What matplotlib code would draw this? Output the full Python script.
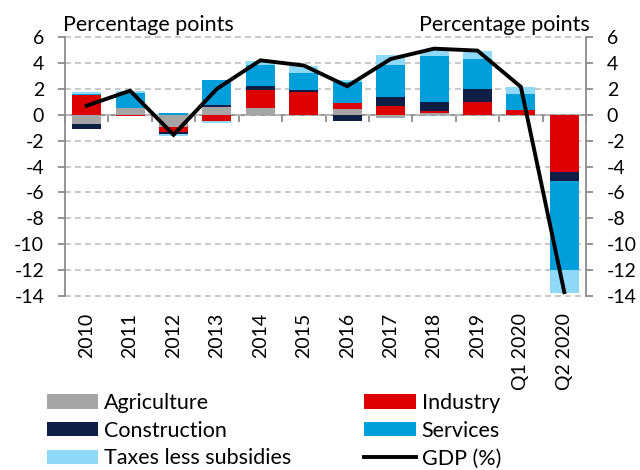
import matplotlib
matplotlib.use('Agg')
import matplotlib.pyplot as plt
import numpy as np
from matplotlib.patches import Patch
from matplotlib.lines import Line2D

categories = ['2010', '2011', '2012', '2013', '2014', '2015', '2016', '2017',
              '2018', '2019', 'Q1 2020', 'Q2 2020']
agriculture = [-0.75, 0.50, -0.95, 0.57, 0.52, 0.00, 0.45, -0.25, 0.10, 0.00, 0.00, 0.00]
industry = [1.55, -0.10, -0.40, -0.50, 1.41, 1.75, 0.45, 0.70, 0.15, 0.97, 0.37, -4.43]
construction = [-0.35, 0.00, -0.15, 0.20, 0.27, 0.15, -0.45, 0.65, 0.75, 1.00, 0.03, -0.72]
services = [0.05, 1.15, 0.15, 1.88, 1.60, 1.30, 1.60, 2.50, 3.50, 2.30, 1.23, -6.85]
taxes = [0.12, 0.15, -0.15, -0.15, 0.35, 0.55, 0.20, 0.75, 0.50, 0.63, 0.53, -1.75]
gdp = [0.70, 1.85, -1.55, 2.00, 4.20, 3.80, 2.20, 4.30, 5.10, 4.95, 2.15, -13.70]
yticks = list(range(-14, 7, 2))

plt.rcParams['font.family'] = ['Lato', 'DejaVu Sans']
FS = 14
FS_TXT = 15.5
GRAY = '#8C8C8C'

fig = plt.figure(figsize=(6.4, 4.7), dpi=100)
ax = fig.add_axes([65/640, 1-296/470, (586-65)/640, (296-37)/470])

x = np.arange(len(categories))
series = [
    (agriculture, 'Agriculture', '#A5A5A5'),
    (industry, 'Industry', '#DC0000'),
    (construction, 'Construction', '#0E1E46'),
    (services, 'Services', '#009FDC'),
    (taxes, 'Taxes less subsidies', '#8FD9F8'),
]
pos_base = np.zeros(len(x))
neg_base = np.zeros(len(x))
handles = {}
for vals, label, color in series:
    v = np.array(vals, dtype=float)
    bottom = np.where(v >= 0, pos_base, neg_base)
    ax.bar(x, v, 0.667, bottom=bottom, color=color, zorder=2, linewidth=0)
    pos_base += np.where(v > 0, v, 0)
    neg_base += np.where(v < 0, v, 0)
    handles[label] = Patch(facecolor=color, edgecolor='none')

ax.plot(x, gdp, color='black', lw=2.8, zorder=3, solid_joinstyle='miter')
handles['GDP (%)'] = Line2D([], [], color='black', lw=2.8)

ax.set_xlim(-0.5, len(x) - 0.5)
ax.set_ylim(-14, 6)
ax.set_yticks(yticks)
ax.set_yticklabels([str(t) for t in yticks])
ax.yaxis.grid(True, linestyle=(0, (3.5, 2.5)), color='#BFBFBF', lw=1.2, clip_on=False)
ax.set_axisbelow(True)

for s in ['top', 'bottom', 'right']:
    ax.spines[s].set_visible(False)
ax.spines['left'].set_color(GRAY)
ax.spines['left'].set_linewidth(1.3)
ax.tick_params(axis='y', direction='out', length=5, width=1.3, color=GRAY,
               labelsize=FS, pad=10)

ax.set_xticks(x)
ax.set_xticklabels(categories, rotation=90, fontsize=FS)
ax.tick_params(axis='x', length=0, pad=12)

# zero line with category separator ticks
sec = ax.secondary_xaxis(0.7)
sec.set_xticks(np.arange(-0.5, len(x), 1.0))
sec.tick_params(axis='x', direction='in', length=5, width=1.3, color=GRAY,
                labeltop=False, labelbottom=False)
for s in sec.spines.values():
    s.set_color(GRAY)
    s.set_linewidth(1.3)

ax2 = ax.twinx()
ax2.set_ylim(-14, 6)
ax2.set_yticks(yticks)
ax2.set_yticklabels([str(t) for t in yticks])
for s in ['top', 'bottom', 'left']:
    ax2.spines[s].set_visible(False)
ax2.spines['right'].set_color(GRAY)
ax2.spines['right'].set_linewidth(1.3)
ax2.tick_params(axis='y', direction='out', length=5, width=1.3, color=GRAY,
                labelsize=FS, pad=10)

fig.text(63/640, 1-31/470, 'Percentage points', ha='left', va='baseline', fontsize=FS_TXT)
fig.text(590/640, 1-31/470, 'Percentage points', ha='right', va='baseline', fontsize=FS_TXT)

order = ['Agriculture', 'Construction', 'Taxes less subsidies', 'Industry', 'Services', 'GDP (%)']
fig.legend([handles[k] for k in order], order, loc='upper left',
           bbox_to_anchor=(47/640, 1-393/470), ncol=2, frameon=False, fontsize=FS_TXT,
           handlelength=2.37, handleheight=0.65, handletextpad=0.28,
           columnspacing=3.4, labelspacing=0.36, borderaxespad=0, borderpad=0)

fig.savefig('out.png', dpi=100)
